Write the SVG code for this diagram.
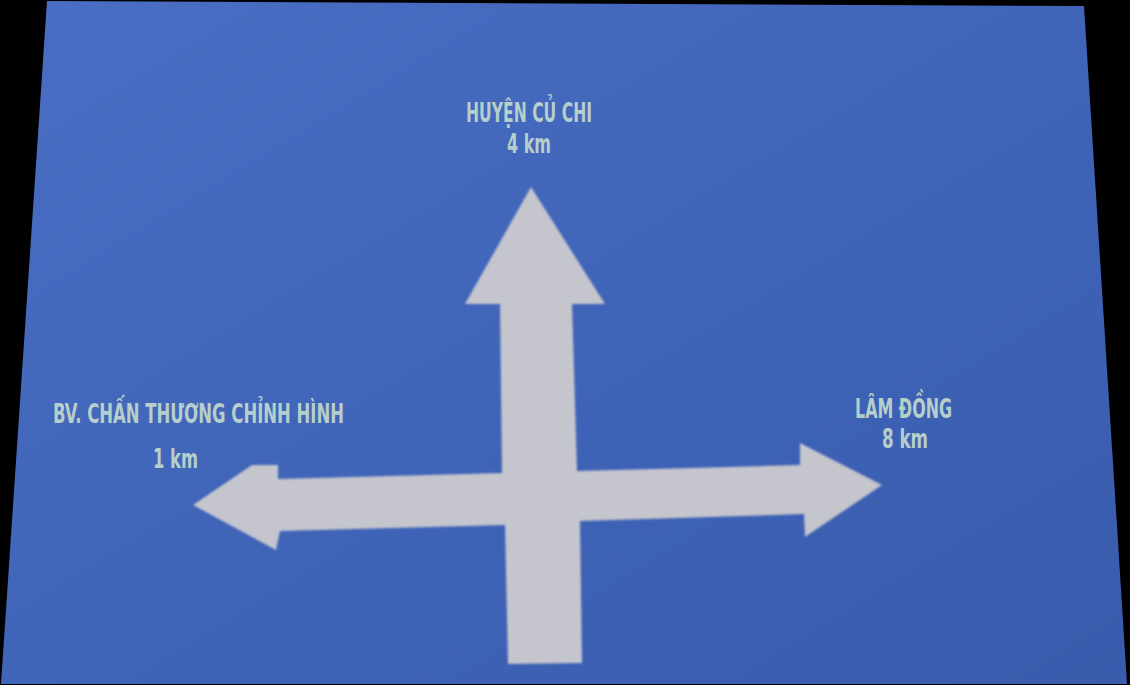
<svg xmlns="http://www.w3.org/2000/svg" width="1130" height="685" viewBox="0 0 1130 685">
  <defs>
    <linearGradient id="board" x1="0" y1="0" x2="1" y2="1">
      <stop offset="0" stop-color="#4a6ec3"/>
      <stop offset="0.5" stop-color="#3f64b8"/>
      <stop offset="1" stop-color="#395bac"/>
    </linearGradient>
    <filter id="soft" x="-5%" y="-5%" width="110%" height="110%">
      <feGaussianBlur stdDeviation="0.8"/>
    </filter>
  </defs>
  <style>
    .lbl { font-family: "DejaVu Sans Condensed", "Liberation Sans Narrow", "Liberation Sans", sans-serif; font-weight: bold; fill: #b6cfca; font-size: 27px; }
    .arrow { fill: #c4c5cd; }
  </style>
  <rect x="0" y="0" width="1130" height="685" fill="#000"/>
  <g id="board-panel">
    <polygon points="47,1 1084,6 1127,684 1,684" fill="url(#board)"/>
  </g>
  <g id="connectors">
    <polygon class="arrow" filter="url(#soft)" points="531,187 605,304 572,304 577,471 800,465 800,443 882,485 805,537 804,514 580,521 582,663 508,664 505,525 280,531 276,550 193,505 252,465 278,465 278,479 502,473 500,304 465,304"/>
  </g>
  <g id="node-cuchi">
    <text class="lbl" x="466" y="122" textLength="126" lengthAdjust="spacingAndGlyphs">HUYỆN CỦ CHI</text>
    <text class="lbl" x="507" y="153" textLength="44" lengthAdjust="spacingAndGlyphs">4 km</text>
  </g>
  <g id="node-bv">
    <text class="lbl" x="53" y="423" textLength="291" lengthAdjust="spacingAndGlyphs">BV. CHẤN THƯƠNG CHỈNH HÌNH</text>
    <text class="lbl" x="153" y="468" textLength="45" lengthAdjust="spacingAndGlyphs">1 km</text>
  </g>
  <g id="node-lamdong">
    <text class="lbl" x="855" y="418" textLength="97" lengthAdjust="spacingAndGlyphs">LÂM ĐỒNG</text>
    <text class="lbl" x="882" y="448" textLength="46" lengthAdjust="spacingAndGlyphs">8 km</text>
  </g>
</svg>
